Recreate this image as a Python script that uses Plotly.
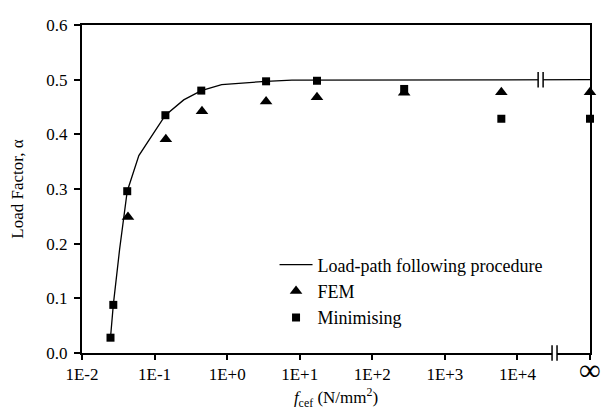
import plotly.graph_objects as go

# Position of the "infinity" category on the log axis (one decade after 1E+4)
INF_X = 1e5

# Load-path following procedure (solid line)
path_x = [0.0247, 0.027, 0.033, 0.042, 0.0607, 0.141, 0.252, 0.44, 0.84, 3.44, 7.8, 17.3, 44, INF_X]
path_y = [0.028, 0.088, 0.19, 0.296, 0.361, 0.435, 0.463, 0.48, 0.491, 0.497, 0.499, 0.499, 0.5, 0.5]

# FEM (triangles)
fem_x = [0.043, 0.143, 0.45, 3.44, 17.3, 275, 6000, INF_X]
fem_y = [0.249, 0.391, 0.442, 0.460, 0.468, 0.476, 0.477, 0.477]

# Minimising (squares)
min_x = [0.0247, 0.027, 0.042, 0.141, 0.44, 3.44, 17.3, 275, 6000, INF_X]
min_y = [0.028, 0.088, 0.296, 0.435, 0.48, 0.497, 0.498, 0.483, 0.4285, 0.4285]

# Axis ticks
x_tickvals = [1e-2, 1e-1, 1e0, 1e1, 1e2, 1e3, 1e4, INF_X]
x_ticktext = ["1E-2", "1E-1", "1E+0", "1E+1", "1E+2", "1E+3", "1E+4",
              "<span style='font-size:30px'><b>∞</b></span>"]
y_tickvals = [0.0, 0.1, 0.2, 0.3, 0.4, 0.5, 0.6]

FONT = "Liberation Serif"

fig = go.Figure()
fig.add_trace(go.Scatter(x=path_x, y=path_y, mode="lines", name="Load-path following procedure",
                         line=dict(color="black", width=1.3), cliponaxis=False))
fig.add_trace(go.Scatter(x=fem_x, y=fem_y, mode="markers", name="FEM",
                         marker=dict(symbol="triangle-up", size=11, color="black"), cliponaxis=False))
fig.add_trace(go.Scatter(x=min_x, y=min_y, mode="markers", name="Minimising",
                         marker=dict(symbol="square", size=8, color="black"), cliponaxis=False))

# axis-break marks ("||")
def brk(xc, yc, yref):
    half = 0.0049
    h = 8 / 337 if yref == "paper" else 0.0142
    fig.add_shape(type="rect", xref="paper", yref=yref, x0=xc - half, x1=xc + half,
                  y0=yc - h * 0.6, y1=yc + h * 0.6, fillcolor="white", line_width=0, layer="above")
    for dx in (-half, half):
        fig.add_shape(type="line", xref="paper", yref=yref, x0=xc + dx, x1=xc + dx,
                      y0=yc - h, y1=yc + h, line=dict(color="black", width=1.5), layer="above")

brk(0.9028, 0.5, "y")
brk(0.9302, 0.0, "paper")

# The page body has a default 8px margin, so the figure is shifted by 8px;
# size and margins compensate so the plot area lands where the reference has it.
fig.update_layout(
    width=601, height=408,
    margin=dict(l=72, r=13, t=8, b=63),
    paper_bgcolor="white", plot_bgcolor="white",
    font=dict(family=FONT, size=17, color="black"),
    showlegend=True,
    legend=dict(x=0.379, y=0.325, xanchor="left", yanchor="top",
                bgcolor="rgba(0,0,0,0)", font=dict(family=FONT, size=18, color="black"),
                tracegroupgap=0, itemwidth=33),
    xaxis=dict(type="log", range=[-2, 5], tickvals=x_tickvals, ticktext=x_ticktext,
               showgrid=False, zeroline=False, showline=True, linecolor="black", linewidth=2,
               mirror=True, ticks="outside", ticklen=5, tickwidth=1.5, tickcolor="black",
               tickfont=dict(family=FONT, size=17, color="black"),
               title=dict(text="<i>f</i><sub>cef</sub> (N/mm<sup>2</sup>)",
                          font=dict(family=FONT, size=17, color="black"), standoff=6)),
    yaxis=dict(range=[0, 0.6], tickvals=y_tickvals, tickformat=".1f",
               showgrid=False, zeroline=False, showline=True, linecolor="black", linewidth=2,
               mirror=True, ticks="outside", ticklen=6, tickwidth=1.5, tickcolor="black",
               ticklabelstandoff=3,
               tickfont=dict(family=FONT, size=17, color="black"),
               title=dict(text="Load Factor, α", font=dict(family=FONT, size=17, color="black"),
                          standoff=18)),
)

fig.write_html("out.html")
